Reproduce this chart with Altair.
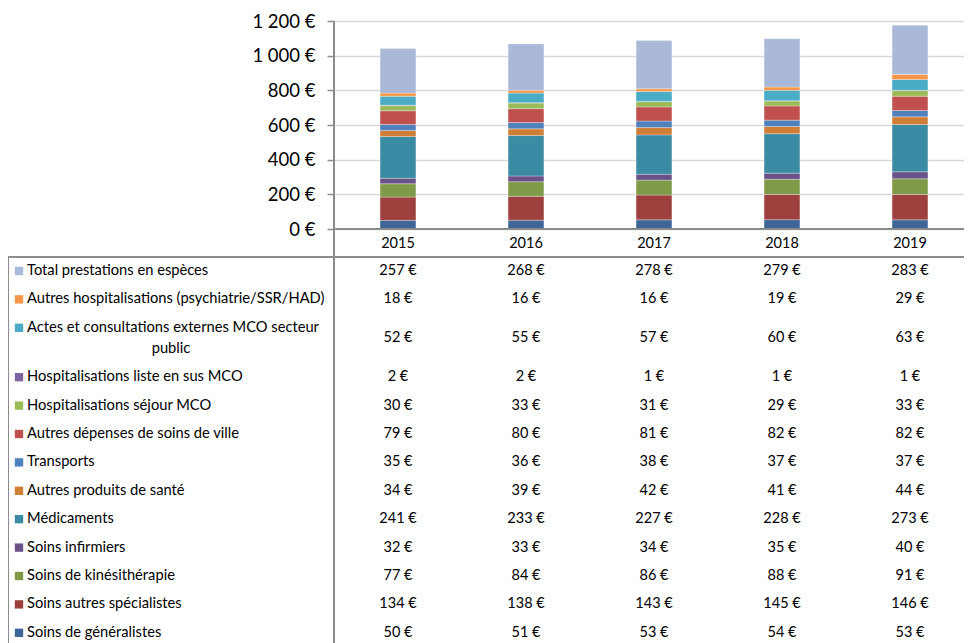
import altair as alt
import pandas as pd

years = ["2015", "2016", "2017", "2018", "2019"]

# series listed from the bottom of the stack to the top
series = [
    "Soins de généralistes",
    "Soins autres spécialistes",
    "Soins de kinésithérapie",
    "Soins infirmiers",
    "Médicaments",
    "Autres produits de santé",
    "Transports",
    "Autres dépenses de soins de ville",
    "Hospitalisations séjour MCO",
    "Hospitalisations liste en sus MCO",
    "Actes et consultations externes MCO secteur public",
    "Autres hospitalisations (psychiatrie/SSR/HAD)",
    "Total prestations en espèces",
]

generalistes = [50, 51, 53, 54, 53]
specialistes = [134, 138, 143, 145, 146]
kine = [77, 84, 86, 88, 91]
infirmiers = [32, 33, 34, 35, 40]
medicaments = [241, 233, 227, 228, 273]
autres_produits = [34, 39, 42, 41, 44]
transports = [35, 36, 38, 37, 37]
autres_ville = [79, 80, 81, 82, 82]
sejour_mco = [30, 33, 31, 29, 33]
liste_sus = [2, 2, 1, 1, 1]
actes_externes = [52, 55, 57, 60, 63]
autres_hosp = [18, 16, 16, 19, 29]
especes = [257, 268, 278, 279, 283]

series_values = [generalistes, specialistes, kine, infirmiers, medicaments,
                 autres_produits, transports, autres_ville, sejour_mco,
                 liste_sus, actes_externes, autres_hosp, especes]

colors = ["#3E6598", "#9C3F3D", "#7F9A48", "#6A5289", "#3A8BA3", "#D07D36",
          "#4F81BD", "#C0504D", "#9BBB59", "#8064A2", "#4BACC6", "#F79646",
          "#AAB9D7"]

FONT = "Lato"

# ---------- long table for the bars ----------
rows = []
for i, (s, vals) in enumerate(zip(series, series_values)):
    for y, v in zip(years, vals):
        rows.append({"series": s, "year": y, "value": v, "order": i})
df = pd.DataFrame(rows)

# ---------- data-table layout (rows top to bottom) ----------
EXTRA = 21 / 28.4  # extra slot height of a wrapped second line
table_rows = list(reversed(range(len(series))))
label_rows, cont_rows, val_rows, key_rows = [], [], [], []
slot = 0.0
for i in table_rows:
    name = series[i]
    if len(name) > 45:
        first, rest = name.rsplit(" ", 1)
        lines = [first, rest]
    else:
        lines = [name]
    center = slot + (len(lines) - 1) * EXTRA / 2
    label_rows.append({"text": lines[0], "slot": slot})
    key_rows.append({"series": name, "slot": slot})
    for k, ln in enumerate(lines[1:], start=1):
        cont_rows.append({"text": ln, "slot": slot + k * EXTRA})
    for y, v in zip(years, series_values[i]):
        val_rows.append({"year": y, "slot": center, "text": f"{v} €"})
    slot += 1 + (len(lines) - 1) * EXTRA

lab_df = pd.DataFrame(label_rows)
cont_df = pd.DataFrame(cont_rows)
val_df = pd.DataFrame(val_rows)
key_df = pd.DataFrame(key_rows)
year_df = pd.DataFrame({"year": years})

x_scale = alt.Scale(domain=years, range=[0, 640], paddingInner=0.72, paddingOuter=0.36)
slot_scale = alt.Scale(domain=[0, 12], range=[250, 250 + 12 * 28.4], zero=False, nice=False)
color_scale = alt.Scale(domain=series, range=colors)

bars = alt.Chart(df).mark_bar(stroke="white", strokeWidth=0.6, strokeOpacity=0.5).encode(
    x=alt.X("year:N", scale=x_scale, axis=None),
    y=alt.Y("value:Q", stack="zero",
            scale=alt.Scale(domain=[0, 1200], range=[208, 0], nice=False),
            axis=alt.Axis(values=[0, 200, 400, 600, 800, 1000, 1200], title=None,
                          labelExpr="replace(format(datum.value, ',d'), ',', ' ') + ' €'",
                          labelFont=FONT, labelFontSize=18.5, labelColor="#000000",
                          labelPadding=12, tickSize=7, tickColor="#8c8c8c", tickWidth=1.5,
                          domain=False, grid=True, gridColor="#d9d9d9", gridWidth=1.5)),
    color=alt.Color("series:N", scale=color_scale, legend=None),
    order=alt.Order("order:Q", sort="ascending"),
)

one = pd.DataFrame({"a": [0]})
line_color = "#8c8c8c"

baseline = alt.Chart(one).mark_rule(color=line_color, strokeWidth=2).encode(
    x=alt.value(0), x2=alt.value(640), y=alt.value(208))
table_top = alt.Chart(one).mark_rule(color=line_color, strokeWidth=2).encode(
    x=alt.value(-326), x2=alt.value(640), y=alt.value(236))
left_border = alt.Chart(one).mark_rule(color=line_color, strokeWidth=2).encode(
    x=alt.value(-326), y=alt.value(236), y2=alt.value(622))
axis_line = alt.Chart(one).mark_rule(color=line_color, strokeWidth=2).encode(
    x=alt.value(0), y=alt.value(0), y2=alt.value(622))

year_labels = alt.Chart(year_df).mark_text(font=FONT, fontSize=14.5, color="#000000",
                                           baseline="middle").encode(
    x=alt.X("year:N", scale=x_scale, axis=None),
    y=alt.value(223),
    text="year:N",
)

labels = alt.Chart(lab_df).mark_text(font=FONT, fontSize=14.7, color="#000000",
                                     align="left", baseline="middle").encode(
    x=alt.value(-307),
    y=alt.Y("slot:Q", scale=slot_scale, axis=None),
    text="text:N",
)
cont_labels = alt.Chart(cont_df).mark_text(font=FONT, fontSize=14.7, color="#000000",
                                           align="center", baseline="middle").encode(
    x=alt.value(-163),
    y=alt.Y("slot:Q", scale=slot_scale, axis=None),
    text="text:N",
)
keys = alt.Chart(key_df).mark_square(size=70, opacity=1).encode(
    x=alt.value(-315),
    y=alt.Y("slot:Q", scale=slot_scale, axis=None),
    color=alt.Color("series:N", scale=color_scale, legend=None),
)
values = alt.Chart(val_df).mark_text(font=FONT, fontSize=14.5, color="#000000",
                                     baseline="middle").encode(
    x=alt.X("year:N", scale=x_scale, axis=None),
    y=alt.Y("slot:Q", scale=slot_scale, axis=None),
    text="text:N",
)

chart = alt.layer(
    bars, baseline, table_top, left_border, axis_line, year_labels,
    labels, cont_labels, keys, values,
).resolve_scale(y="independent").properties(
    width=630, height=622,
    autosize=alt.AutoSizeParams(type="none"),
    padding={"left": 326, "top": 13, "right": 0, "bottom": 0},
).configure_view(stroke=None).configure(background="white")

chart.save("out.html", embed_options={"renderer": "svg", "actions": False})
